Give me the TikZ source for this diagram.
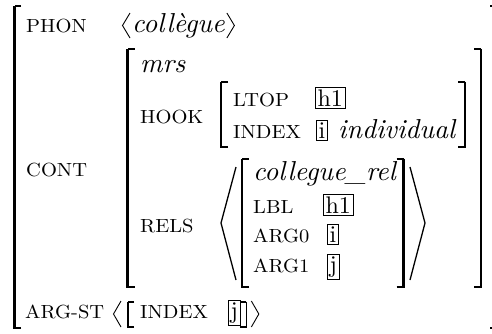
\documentclass[tikz,border=0pt]{standalone}
\usepackage{fontspec}
\newcommand\ft[1]{\scalebox{2.05}[1.9]{\normalsize\upshape #1}}
\newcommand\vl[1]{\scalebox{2.74}{\normalsize\itshape #1}}
\newcommand\tg[1]{\scalebox{2.4}{\normalsize\upshape #1}}
\begin{document}
\begin{tikzpicture}[x=1pt,y=-1pt,
  every node/.style={inner sep=0pt, anchor=base west},
  tag/.style={draw, line width=0.6pt, inner xsep=2.2pt, inner ysep=2pt, anchor=base west},
  brv/.style={line width=2.4pt},
  brh/.style={line width=1.1pt},
  ang/.style={line width=1.3pt, line join=miter},
  sang/.style={line width=0.9pt, line join=miter}]
\useasboundingbox (0,0) rectangle (492,333);
\clip (0,0) rectangle (492,333);
% ---- brackets: outer
\draw[brh] (21,6) -- (14.5,6); \draw[brh] (21,328) -- (14.5,328);
\draw[brv] (14.5,5.5) -- (14.5,328.5);
\draw[brh] (490,6) -- (497,6); \draw[brh] (490,328) -- (497,328);
\draw[brv] (497,5.5) -- (497,328.5);
% ---- CONT brackets
\draw[brh] (134.5,49) -- (127.5,49); \draw[brh] (134.5,287) -- (127.5,287);
\draw[brv] (127.5,48.5) -- (127.5,287.5);
\draw[brh] (474,49) -- (481,49); \draw[brh] (474,287) -- (481,287);
\draw[brv] (481,48.5) -- (481,287.5);
% ---- HOOK brackets
\draw[brh] (228,82) -- (221,82); \draw[brh] (228,147) -- (221,147);
\draw[brv] (221,81.5) -- (221,147.5);
\draw[brh] (458,82) -- (465,82); \draw[brh] (458,147) -- (465,147);
\draw[brv] (465,81.5) -- (465,147.5);
% ---- RELS list element brackets
\draw[brh] (249,159) -- (242,159); \draw[brh] (249,287) -- (242,287);
\draw[brv] (242,158.5) -- (242,287.5);
\draw[brh] (396.5,159) -- (403.5,159); \draw[brh] (396.5,287) -- (403.5,287);
\draw[brv] (403.5,158.5) -- (403.5,287.5);
% ---- RELS angles
\draw[ang] (236,167) -- (221,223) -- (236,280);
\draw[ang] (410,167) -- (425,223) -- (410,280);
% ---- texts
\node (phon) at (26,32) {\ft{PHON}};
\node (colleg) at (132,32) {\vl{collègue}};
\node (cont) at (26,176) {\ft{CONT}};
\node (mrs) at (140,72) {\vl{mrs}};
\node (hook) at (140,123) {\ft{HOOK}};
\node (ltop) at (233,106) {\ft{LTOP}};
\node[tag] (th1) at (315,106) {\tg{h1}};
\node (index) at (233,138) {\ft{INDEX}};
\node[tag] (ti) at (316,138) {\tg{i}};
\node (indiv) at (338,138) {\vl{individual}};
\node (rels) at (140,232) {\ft{RELS}};
\node (crel) at (253,180) {\vl{collegue\_rel}};
\node (lbl) at (253,213) {\ft{LBL}};
\node[tag] (th1b) at (323,213) {\tg{h1}};
\node (arg0) at (253,242) {\ft{ARG0}};
\node[tag] (tib) at (327,242) {\tg{i}};
\node (arg1) at (253,272) {\ft{ARG1}};
\node[tag] (tj) at (327,272) {\tg{j}};
\node (argst) at (25,318) {\ft{ARG-ST}};
\node (index2) at (140,318) {\ft{INDEX}};
\node[tag] (tj2) at (228,318) {\tg{j}};
% ---- PHON angles
\draw[sang] ([xshift=-2pt]colleg.base west) ++(0,-19) coordinate (pl1) -- ++(-7.5,12.5) -- ++(7.5,12.5);
\draw[sang] ([xshift=2pt]colleg.base east) ++(0,-19) coordinate (pr1) -- ++(7.5,12.5) -- ++(-7.5,12.5);
% ---- ARG-ST angles and brackets
\draw[sang] (121,301) -- (113.5,314) -- (121,327);
\draw[brh] (134,302) -- (128,302); \draw[brh] (134,327) -- (128,327);
\draw[line width=1.6pt] (128,301.5) -- (128,327.5);
\coordinate (rb) at ([xshift=6pt]tj2.east);
\draw[brh] ([xshift=-6pt]rb |- 0,302) -- (rb |- 0,302);
\draw[brh] ([xshift=-6pt]rb |- 0,327) -- (rb |- 0,327);
\draw[line width=1.6pt] (rb |- 0,301.5) -- (rb |- 0,327.5);
\draw[sang] ([xshift=5pt]rb |- 0,301) -- ([xshift=12.5pt]rb |- 0,314) -- ([xshift=5pt]rb |- 0,327);
\end{tikzpicture}
\end{document}
